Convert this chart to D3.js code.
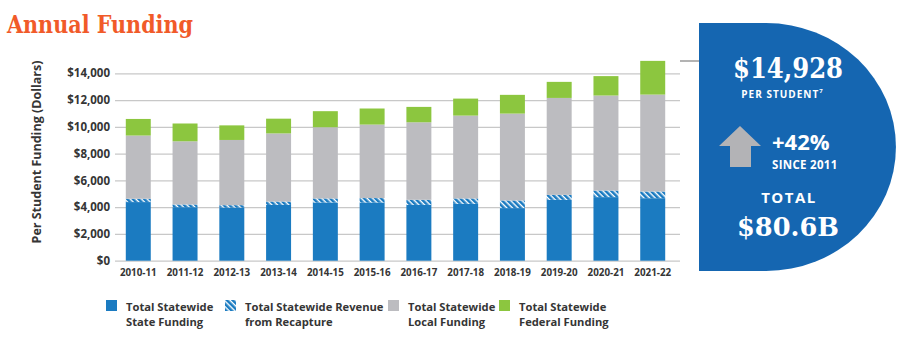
<!DOCTYPE html>
<html>
<head>
<meta charset="utf-8">
<script src="https://cdn.jsdelivr.net/npm/d3@7"></script>
<style>
  html, body { margin: 0; padding: 0; background: #fff; }
  svg { display: block; font-family: "Open Sans", "DejaVu Sans", sans-serif; }
</style>
</head>
<body>
<svg id="chart" width="900" height="337"></svg>
<script>
// per student funding by school year, in dollars
let years = ["2010-11", "2011-12", "2012-13", "2013-14", "2014-15", "2015-16",
             "2016-17", "2017-18", "2018-19", "2019-20", "2020-21", "2021-22"];
let stateFunding     = [4380, 4000, 3970, 4170, 4350, 4350, 4170, 4250, 3930, 4550, 4750, 4670];
let recaptureRevenue = [250, 200, 180, 250, 300, 330, 380, 400, 570, 370, 490, 500];
let localFunding     = [4720, 4720, 4870, 5090, 5320, 5490, 5790, 6190, 6490, 7240, 7100, 7240];
let federalFunding   = [1240, 1330, 1090, 1100, 1200, 1200, 1150, 1270, 1400, 1200, 1450, 2518];
let yTicks = [0, 2000, 4000, 6000, 8000, 10000, 12000, 14000];

let legendItems = [
    {key: "state", lines: ["Total Statewide", "State Funding"], x: 106},
    {key: "recapture", lines: ["Total Statewide Revenue", "from Recapture"], x: 225},
    {key: "local", lines: ["Total Statewide", "Local Funding"], x: 388},
    {key: "federal", lines: ["Total Statewide", "Federal Funding"], x: 499}
];

let colors = {
    state: "#1b7bc1",
    recapture: "url(#recap)",
    local: "#bcbcc0",
    federal: "#8cc63f"
};
let textColor = "#353535";
let slab = "'DejaVu Serif', 'Liberation Serif', serif";

let svg = d3.select("#chart");

// diagonal stripes for the recapture segment
let defs = svg.append("defs");
let pat = defs.append("pattern")
    .attr("id", "recap")
    .attr("patternUnits", "userSpaceOnUse")
    .attr("width", 4)
    .attr("height", 4)
    .attr("patternTransform", "rotate(-45)");
pat.append("rect").attr("width", 4).attr("height", 4).attr("fill", "#ffffff");
pat.append("rect").attr("width", 2.6).attr("height", 4).attr("fill", colors.state);

// title
svg.append("text")
    .attr("x", 7)
    .attr("y", 33)
    .attr("font-family", slab)
    .attr("font-weight", "bold")
    .attr("font-size", 25)
    .attr("textLength", 186)
    .attr("lengthAdjust", "spacingAndGlyphs")
    .attr("fill", "#f15a29")
    .text("Annual Funding");

let rows = years.map(function (yr, i) {
    return {
        year: yr,
        state: stateFunding[i],
        recapture: recaptureRevenue[i],
        local: localFunding[i],
        federal: federalFunding[i]
    };
});

let x = d3.scaleBand()
    .domain(years)
    .range([104, 687])
    .paddingInner(0.466)
    .paddingOuter(0.466);

let y = d3.scaleLinear()
    .domain([0, 14000])
    .range([260.7, 73.3]);

// grid + y labels
let yAxis = d3.axisLeft(y)
    .tickValues(yTicks)
    .tickSize(-565)
    .tickPadding(5)
    .tickFormat(function (d) { return "$" + d3.format(",")(d); });

let gy = svg.append("g")
    .attr("transform", "translate(115,0)")
    .call(yAxis);
gy.select(".domain").remove();
gy.selectAll(".tick line").attr("stroke", "#c8c8c8").attr("stroke-width", 1.2);
gy.selectAll(".tick text")
    .attr("fill", textColor)
    .attr("font-size", 11.5)
    .attr("font-weight", "bold")
    .attr("font-family", "'Open Sans', sans-serif");

svg.append("text")
    .attr("transform", "translate(41,152) rotate(-90)")
    .attr("text-anchor", "middle")
    .attr("font-size", 12.5)
    .attr("font-weight", "bold")
    .attr("fill", textColor)
    .text("Per Student Funding (Dollars)");

// stacked bars
let keys = ["state", "recapture", "local", "federal"];
let stacked = d3.stack().keys(keys)(rows);

svg.append("g").selectAll("g")
    .data(stacked)
    .enter()
    .append("g")
    .attr("fill", function (s) { return colors[s.key]; })
    .selectAll("rect")
    .data(function (s) { return s; })
    .enter()
    .append("rect")
    .attr("x", function (d) { return x(d.data.year); })
    .attr("width", x.bandwidth())
    .attr("y", function (d) { return y(d[1]); })
    .attr("height", function (d) { return y(d[0]) - y(d[1]); });

// x labels
let gx = svg.append("g")
    .attr("transform", "translate(0,261)")
    .call(d3.axisBottom(x).tickSize(0).tickPadding(8));
gx.select(".domain").remove();
gx.selectAll(".tick text")
    .attr("fill", textColor)
    .attr("font-size", 9.8)
    .attr("font-weight", "bold")
    .attr("font-family", "'Open Sans', sans-serif");

// legend
let lg = svg.append("g").selectAll("g")
    .data(legendItems)
    .enter()
    .append("g")
    .attr("transform", function (d) { return "translate(" + d.x + ",300)"; });
lg.append("rect")
    .attr("width", 11)
    .attr("height", 11)
    .attr("fill", function (d) { return colors[d.key]; });
lg.append("text")
    .attr("x", 20)
    .attr("y", 10.5)
    .attr("font-size", 11.2)
    .attr("font-weight", "bold")
    .attr("fill", textColor)
    .selectAll("tspan")
    .data(function (d) { return d.lines; })
    .enter()
    .append("tspan")
    .attr("x", 20)
    .attr("dy", function (d, i) { return i === 0 ? 0 : 15; })
    .text(function (d) { return d; });

// summary panel
let perStudent = d3.sum(keys, function (k) { return rows[rows.length - 1][k]; });

svg.append("line")
    .attr("x1", 680).attr("x2", 723)
    .attr("y1", y(perStudent)).attr("y2", y(perStudent))
    .attr("stroke", "#9a9a9a")
    .attr("stroke-width", 1.5);

svg.append("path")
    .attr("d", "M699,23 H766 A130,124 0 0 1 766,271 H699 Z")
    .attr("fill", "#1566b1");

let panel = svg.append("g").attr("fill", "#ffffff").attr("text-anchor", "middle");

panel.append("text")
    .attr("x", 788).attr("y", 78)
    .attr("font-family", slab)
    .attr("font-weight", "bold")
    .attr("font-size", 27)
    .attr("textLength", 110)
    .attr("lengthAdjust", "spacingAndGlyphs")
    .text("$" + d3.format(",")(perStudent));

let ps = panel.append("text")
    .attr("x", 782).attr("y", 97.5)
    .attr("font-size", 10)
    .attr("font-weight", "bold")
    .attr("letter-spacing", 1)
    .text("PER STUDENT");
ps.append("tspan")
    .attr("font-size", 6)
    .attr("dy", -5)
    .attr("letter-spacing", 0)
    .text("7");

// up arrow
svg.append("path")
    .attr("d", "M740,126 L761,146 L751,146 L751,167 L730,167 L730,146 L719,146 Z")
    .attr("fill", "#b3b3b6");

panel.append("text")
    .attr("x", 772).attr("y", 150)
    .attr("text-anchor", "start")
    .attr("font-size", 22)
    .attr("font-weight", "bold")
    .text("+42%");

panel.append("text")
    .attr("x", 772).attr("y", 169)
    .attr("text-anchor", "start")
    .attr("font-size", 11.5)
    .attr("font-weight", "bold")
    .attr("letter-spacing", 0.3)
    .text("SINCE 2011");

panel.append("text")
    .attr("x", 789).attr("y", 203)
    .attr("font-size", 15)
    .attr("font-weight", "bold")
    .attr("letter-spacing", 1.5)
    .text("TOTAL");

panel.append("text")
    .attr("x", 788).attr("y", 236)
    .attr("font-family", slab)
    .attr("font-weight", "bold")
    .attr("font-size", 26)
    .attr("textLength", 102)
    .attr("lengthAdjust", "spacingAndGlyphs")
    .text("$80.6B");
</script>
</body>
</html>
